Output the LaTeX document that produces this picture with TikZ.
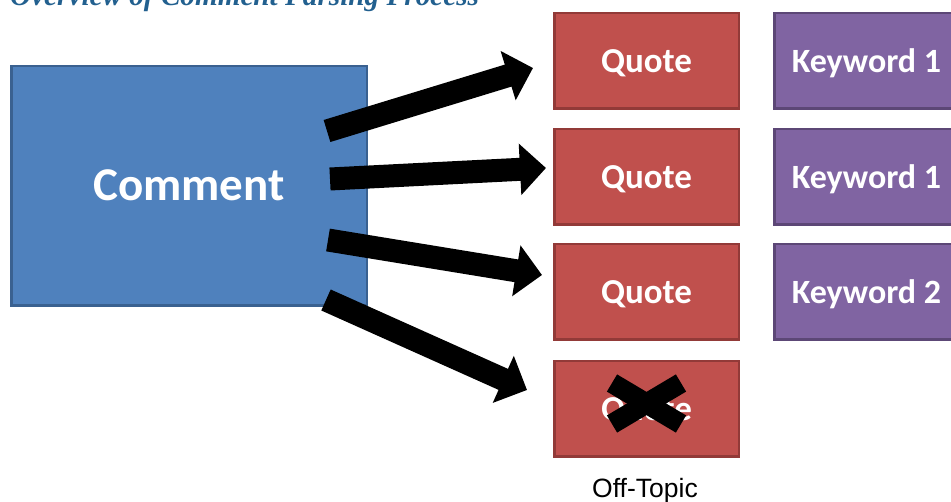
\documentclass[tikz,border=0pt]{standalone}
\usepackage{fontspec}
\setmainfont{Carlito}
\newfontfamily\titlefont{Liberation Serif}
\newfontfamily\labelfont{Liberation Sans}
\usetikzlibrary{arrows.meta}

\definecolor{commentfill}{HTML}{4F81BD}
\definecolor{commentline}{HTML}{3A6190}
\definecolor{quotefill}{HTML}{C0504D}
\definecolor{quoteline}{HTML}{923A38}
\definecolor{keyfill}{HTML}{8064A2}
\definecolor{keyline}{HTML}{5C4776}
\definecolor{titleblue}{HTML}{22608F}

\tikzset{
  box/.style={draw, line width=2.5pt, inner sep=0pt, text=white,
    minimum width=184.5pt, minimum height=95.5pt,
    text height=22.5pt, text depth=0pt},
  quotebox/.style={box, fill=quotefill, draw=quoteline,
    font=\bfseries\fontsize{35}{35}\selectfont},
  keybox/.style={box, fill=keyfill, draw=keyline,
    font=\bfseries\fontsize{34}{34}\selectfont},
  commentbox/.style={box, fill=commentfill, draw=commentline,
    minimum width=355.5pt, minimum height=239.5pt,
    text height=30pt,
    font=\bfseries\fontsize{47}{47}\selectfont},
  blockarrow/.style={line width=23pt, line cap=butt,
    -{Triangle[length=26pt,width=50pt]}},
  crossbar/.style={line width=20pt, line cap=butt},
}

\begin{document}
\begin{tikzpicture}[x=1pt,y=-1pt]
\useasboundingbox (0,0) rectangle (951,502);
\clip (0,0) rectangle (951,502);

% heading, partly above the page edge
\node[anchor=base west, inner sep=0pt, text=titleblue,
  font=\titlefont\bfseries\itshape\fontsize{29.2}{29.2}\selectfont]
  (title) at (10,6) {Overview of Comment Parsing Process};

% source block
\node[commentbox] (comment) at (189,186) {Comment};

% extracted quotes
\node[quotebox] (q1) at (646.5,61) {Quote};
\node[quotebox] (q2) at (646.5,177) {Quote};
\node[quotebox] (q3) at (646.5,292) {Quote};
\node[quotebox] (q4) at (646.5,409) {Quote};

% keywords per quote
\node[keybox] (k1) at (866.5,61) {Keyword 1};
\node[keybox] (k2) at (866.5,177) {Keyword 1};
\node[keybox] (k3) at (866.5,292) {Keyword 2};

% discarded quote
\coordinate (xa) at (612,383);
\coordinate (xb) at (681,424);
\coordinate (xc) at (612,424);
\coordinate (xd) at (681,383);
\draw[crossbar] (xa) -- (xb);
\draw[crossbar] (xc) -- (xd);

\node[font=\labelfont\fontsize{26.5}{26.5}\selectfont, anchor=base, inner sep=0pt]
  (offtopic) at (645,497) {Off-Topic};

% arrows from the comment to each quote
\coordinate (t1) at (327,131);
\coordinate (h1) at (533,68);
\coordinate (t2) at (330,179);
\coordinate (h2) at (546,168);
\coordinate (t3) at (328,240);
\coordinate (h3) at (542,275);
\coordinate (t4) at (326,300);
\coordinate (h4) at (527,390);
\draw[blockarrow] (t1) -- (h1);
\draw[blockarrow] (t2) -- (h2);
\draw[blockarrow] (t3) -- (h3);
\draw[blockarrow] (t4) -- (h4);
\end{tikzpicture}
\end{document}
